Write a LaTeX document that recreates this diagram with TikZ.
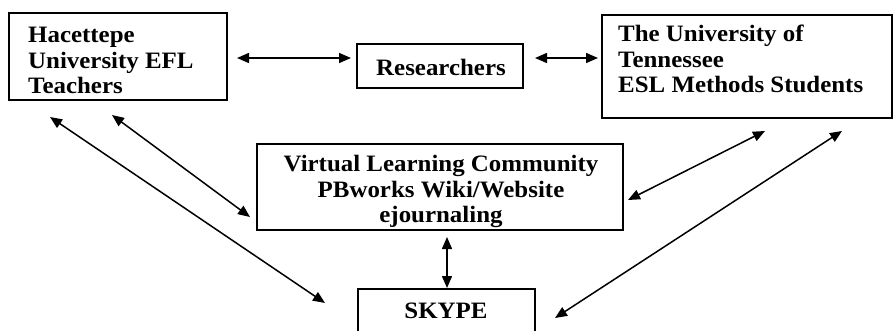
\documentclass[tikz,border=0pt]{standalone}
\usepackage{fontspec}
\setmainfont{Liberation Serif}[FakeStretch=1.06]
\usetikzlibrary{arrows.meta}
\begin{document}
\begin{tikzpicture}[x=1pt,y=-1pt,
  boxframe/.style={draw,line width=2pt,inner sep=0pt},
  txt/.style={inner sep=0pt,font=\fontsize{23.5}{25.5}\selectfont\bfseries},
  link/.style={line width=1.5pt,{Triangle[length=12pt,width=10pt]}-{Triangle[length=12pt,width=10pt]}}]
\useasboundingbox (0,0) rectangle (894,331);
% boxes
\node[boxframe,minimum width=218pt,minimum height=87pt] (hac) at (118,56.5) {};
\node[boxframe,minimum width=166pt,minimum height=44pt] (res) at (440,66) {};
\node[boxframe,minimum width=290pt,minimum height=103pt] (ten) at (747,66.5) {};
\node[boxframe,minimum width=366pt,minimum height=86pt] (vlc) at (440,187) {};
\node[boxframe,minimum width=177pt,minimum height=60pt] (sky) at (446.5,319) {};
% texts
\node[txt,align=left,anchor=north west] (hact) at (28,27) {Hacettepe\\University EFL\\Teachers};
\node[txt] (rest) at (441,67) {Researchers};
\node[txt,align=left,anchor=north west] (tent) at (618,25) {The University of\\Tennessee\\ESL Methods Students};
\node[txt,align=center,anchor=north] (vlct) at (441,155) {Virtual Learning Community\\PBworks Wiki/Website\\ejournaling};
\node[txt] (skyt) at (446,311) {SKYPE};
% arrow end points
\coordinate (a1) at (237,58);  \coordinate (a2) at (351,58);
\coordinate (b1) at (535,58);  \coordinate (b2) at (598,58);
\coordinate (c1) at (447,237); \coordinate (c2) at (447,288);
\coordinate (d1) at (50,117);  \coordinate (d2) at (325,303);
\coordinate (e1) at (112,115); \coordinate (e2) at (250,217);
\coordinate (f1) at (765,131); \coordinate (f2) at (628,200);
\coordinate (g1) at (842,131); \coordinate (g2) at (555,318);
\draw[link] (a1) -- (a2);
\draw[link] (b1) -- (b2);
\draw[link] (c1) -- (c2);
\draw[link] (d1) -- (d2);
\draw[link] (e1) -- (e2);
\draw[link] (f1) -- (f2);
\draw[link] (g1) -- (g2);
\end{tikzpicture}
\end{document}
